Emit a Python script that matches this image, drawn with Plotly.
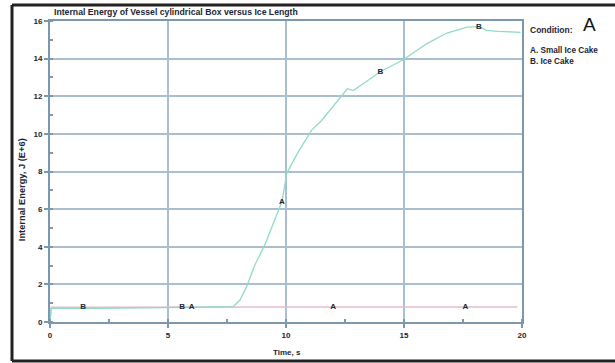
import plotly.graph_objects as go

# ---- data ----
time_A = [0, 0.05, 2, 4, 6, 8, 10, 12, 14, 16, 18, 19.8]
energy_A = [0, 0.78, 0.79, 0.8, 0.8, 0.8, 0.8, 0.8, 0.8, 0.8, 0.8, 0.8]

time_B = [0, 0.05, 2, 4, 6, 7.5, 7.76, 8.05, 8.33, 8.68, 9.1, 9.83, 10.03, 10.5,
          11.09, 11.5, 12.0, 12.42, 12.6, 12.85, 13.2, 14.0, 14.97, 15.97, 16.82,
          17.67, 18.17, 18.5, 19.0, 19.94]
energy_B = [0, 0.72, 0.72, 0.74, 0.76, 0.78, 0.81, 1.17, 1.88, 3.03, 4.1, 6.4, 7.9, 9.0,
            10.2, 10.7, 11.5, 12.16, 12.4, 12.3, 12.6, 13.3, 13.94, 14.8, 15.36,
            15.67, 15.7, 15.5, 15.45, 15.4]

label_t = [1.4, 5.6, 6.0, 12.0, 17.6, 9.83, 14.0, 18.17]
label_y = [0.8, 0.8, 0.8, 0.8, 0.8, 6.4, 13.3, 15.7]
label_txt = ["B", "B", "A", "A", "A", "A", "B", "B"]

x_ticks = [0, 5, 10, 15, 20]
y_ticks = [0, 2, 4, 6, 8, 10, 12, 14, 16]

title = "Internal Energy of Vessel cylindrical Box versus Ice Length"
x_title = "Time, s"
y_title = "Internal Energy, J (E+6)"
legend_title = "Condition:"
legend_A = "A. Small Ice Cake"
legend_B = "B. Ice Cake"
panel = "A"

TXT = "#1c2633"
GRID = "#a9bfcf"
AXIS = "#7c98ae"
FONT = "Liberation Sans, Arial, sans-serif"

fig = go.Figure()
fig.add_trace(go.Scatter(x=time_A, y=energy_A, mode="lines",
                         line=dict(color="#e6bccb", width=1.5), hoverinfo="skip"))
fig.add_trace(go.Scatter(x=time_B, y=energy_B, mode="lines",
                         line=dict(color="#8fdcc6", width=1.3), hoverinfo="skip"))
fig.add_trace(go.Scatter(x=label_t, y=label_y, mode="text", text=[f"<b>{t}</b>" for t in label_txt],
                         textfont=dict(size=8, color=TXT, family=FONT), hoverinfo="skip"))

axis_common = dict(showgrid=True, gridcolor=GRID, gridwidth=1.5,
                   showline=True, linecolor=AXIS, linewidth=2, mirror=True,
                   ticks="outside", ticklen=4, tickcolor=AXIS, tickwidth=1.5,
                   tickfont=dict(size=8, color=TXT, family=FONT),
                   zeroline=False)

fig.update_xaxes(range=[0, 20], tickvals=x_ticks, ticktext=[f"<b>{v}</b>" for v in x_ticks],
                 minor=dict(dtick=2.5, ticks="inside", ticklen=3, tickcolor=AXIS, showgrid=False),
                 **axis_common)
fig.update_yaxes(range=[0, 16], tickvals=y_ticks, ticktext=[f"<b>{v}</b>" for v in y_ticks],
                 minor=dict(dtick=1, ticks="inside", ticklen=3, tickcolor=AXIS, showgrid=False),
                 **axis_common)

ann = []
ann.append(dict(text=f"<b>{title}</b>", x=0.004, y=1.03, xref="paper", yref="paper",
                xanchor="left", yanchor="middle", showarrow=False,
                font=dict(size=8.7, color=TXT, family=FONT)))
ann.append(dict(text=f"<b>{x_title}</b>", x=0.502, y=-0.1, xref="paper", yref="paper",
                xanchor="center", yanchor="middle", showarrow=False,
                font=dict(size=8, color=TXT, family=FONT)))
ann.append(dict(text=f"<b>{y_title}</b>", x=-0.059, y=0.4385, xref="paper", yref="paper",
                xanchor="center", yanchor="middle", showarrow=False, textangle=-90,
                font=dict(size=9.3, color=TXT, family=FONT)))
ann.append(dict(text=f"<b>{legend_title}</b>", x=1.013, y=0.970, xref="paper", yref="paper",
                xanchor="left", yanchor="middle", showarrow=False,
                font=dict(size=8.5, color=TXT, family=FONT)))
ann.append(dict(text=f"<b>{legend_A}</b>", x=1.013, y=0.902, xref="paper", yref="paper",
                xanchor="left", yanchor="middle", showarrow=False,
                font=dict(size=8.2, color=TXT, family=FONT)))
ann.append(dict(text=f"<b>{legend_B}</b>", x=1.013, y=0.866, xref="paper", yref="paper",
                xanchor="left", yanchor="middle", showarrow=False,
                font=dict(size=8.2, color=TXT, family=FONT)))
ann.append(dict(text=panel, x=1.144, y=0.987, xref="paper", yref="paper",
                xanchor="center", yanchor="middle", showarrow=False,
                font=dict(size=19, color="#111111", family=FONT)))

# outer black frame (left, top, bottom edges), in pixel-derived paper coords
FR = dict(color="#222222", width=3)
shapes = [
    dict(type="line", xref="paper", yref="paper", x0=-0.0805, x1=-0.0805, y0=-0.1296, y1=1.053, line=FR),
    dict(type="line", xref="paper", yref="paper", x0=-0.0805, x1=1.25, y0=1.053, y1=1.053, line=FR),
    dict(type="line", xref="paper", yref="paper", x0=-0.0805, x1=1.25, y0=-0.1296, y1=-0.1296, line=FR),
]

fig.update_layout(width=615, height=363, margin=dict(l=50, r=93, t=21, b=41),
                  paper_bgcolor="white", plot_bgcolor="white", showlegend=False,
                  annotations=ann, shapes=shapes)

fig.write_html("out.html", config={"displayModeBar": False},
               post_script="document.body.style.margin='0px';")
